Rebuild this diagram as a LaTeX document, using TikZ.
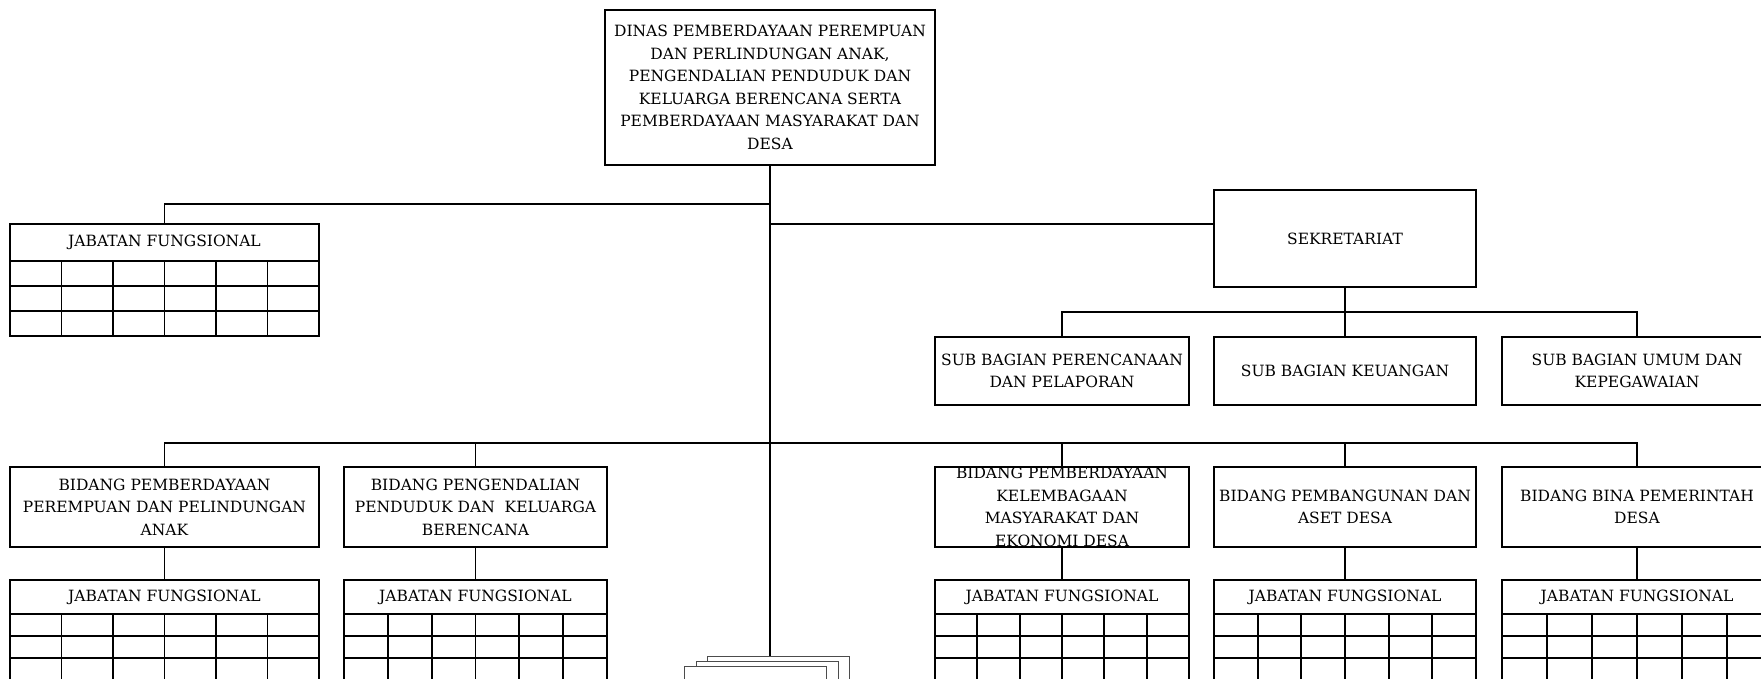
\documentclass[tikz,border=0pt]{standalone}
\usepackage{fontspec}
\setmainfont{DejaVu Serif}
\usepackage{tikz}

\begin{document}
\begin{tikzpicture}[x=1pt,y=-1pt,
box/.style={draw,line width=1.8pt,inner sep=0pt,outer sep=0pt,anchor=north west,
  align=center,font=\fontsize{15.5}{22.5}\selectfont},
conn/.style={line width=1.8pt},
page/.style={draw=black!70,line width=0.9pt,fill=white,anchor=north west,
  minimum width=142pt,minimum height=60pt,inner sep=0pt,outer sep=0pt}
]
\useasboundingbox (0,0) rectangle (1761,678);
\clip (0,0) rectangle (1761,678);

\node[box,minimum width=330pt,minimum height=155pt] (dinas) at (605,10)
  {DINAS PEMBERDAYAAN PEREMPUAN\\DAN PERLINDUNGAN ANAK,\\PENGENDALIAN PENDUDUK DAN\\
   KELUARGA BERENCANA SERTA\\PEMBERDAYAAN MASYARAKAT DAN\\DESA};

\node[box,minimum width=262pt,minimum height=97pt] (sek) at (1214,190) {SEKRETARIAT};

\node[box,minimum width=254pt,minimum height=68pt] (sub1) at (935,337)
  {SUB BAGIAN PERENCANAAN\\DAN PELAPORAN};
\node[box,minimum width=262pt,minimum height=68pt] (sub2) at (1214,337)
  {SUB BAGIAN KEUANGAN};
\node[box,minimum width=270pt,minimum height=68pt] (sub3) at (1502,337)
  {SUB BAGIAN UMUM DAN\\KEPEGAWAIAN};

\node[box,minimum width=309pt,minimum height=80pt] (bid1) at (10,467)
  {BIDANG PEMBERDAYAAN\\PEREMPUAN DAN PELINDUNGAN\\ANAK};
\node[box,minimum width=263pt,minimum height=80pt] (bid2) at (344,467)
  {BIDANG PENGENDALIAN\\PENDUDUK DAN\ \ KELUARGA\\BERENCANA};
\node[box,minimum width=254pt,minimum height=80pt] (bid3) at (935,467)
  {BIDANG PEMBERDAYAAN\\KELEMBAGAAN\\MASYARAKAT DAN\\EKONOMI DESA};
\node[box,minimum width=262pt,minimum height=80pt] (bid4) at (1214,467)
  {BIDANG PEMBANGUNAN DAN\\ASET DESA};
\node[box,minimum width=270pt,minimum height=80pt] (bid5) at (1502,467)
  {BIDANG BINA PEMERINTAH\\DESA};

% jabatan fungsional: name/left/top/width/header/row
\foreach \n/\x/\y/\w/\hh/\rh in {0/10/224/309/37/25,1/10/580/309/34/22,
  2/344/580/263/34/22,3/935/580/254/34/22,4/1214/580/262/34/22,5/1502/580/270/34/22}{
  \node[box,minimum width=\w pt,minimum height=\hh pt] (jab\n) at (\x,\y) {JABATAN FUNGSIONAL};
  \draw[conn] (\x,\y+\hh) rectangle (\x+\w,\y+\hh+3*\rh);
  \foreach \r in {1,2} \draw[conn] (\x,\y+\hh+\r*\rh) -- (\x+\w,\y+\hh+\r*\rh);
  \foreach \c in {1,...,5} \draw[conn] (\x+\c*\w/6,\y+\hh) -- (\x+\c*\w/6,\y+\hh+3*\rh);
}

\node[page] (pg3) at (707,656) {};
\node[page] (pg2) at (696,661) {};
\node[page] (pg1) at (684,666) {};

\coordinate (busjf) at (770,204);
\coordinate (bussek) at (770,224);
\coordinate (bussub) at (1345,312);
\coordinate (busbid) at (770,443);

\draw[conn] (dinas.south) -- (dinas.south |- pg3.north);
\draw[conn] (busjf) -| (jab0.north);
\draw[conn] (bussek) -- (bussek -| sek.west);
\draw[conn] (sek.south) -- (bussub);
\foreach \s in {1,2,3} \draw[conn] (bussub) -| (sub\s.north);
\foreach \b in {1,...,5} {
  \draw[conn] (busbid) -| (bid\b.north);
  \draw[conn] (bid\b.south) -- (jab\b.north);
}
\end{tikzpicture}
\end{document}
